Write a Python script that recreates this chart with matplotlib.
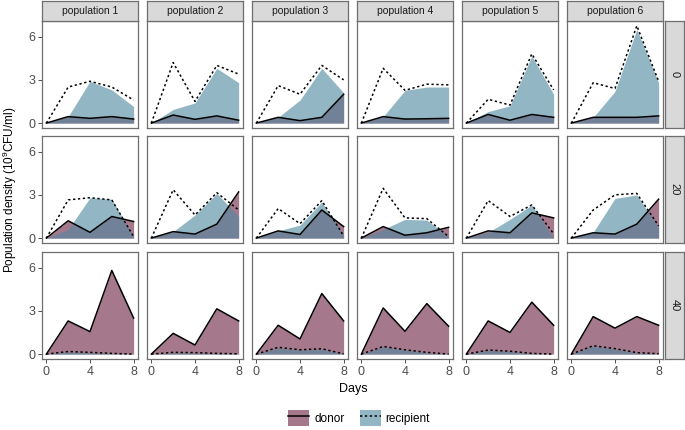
import matplotlib
matplotlib.use("Agg")
import matplotlib.pyplot as plt
from matplotlib.patches import Patch
from matplotlib.lines import Line2D

plt.rcParams['font.family'] = ['Liberation Sans', 'DejaVu Sans']
plt.rcParams['mathtext.fontset'] = 'custom'
plt.rcParams['mathtext.rm'] = 'Liberation Sans'
plt.rcParams['mathtext.default'] = 'rm'

days = [0, 2, 4, 6, 8]
populations = ["population 1", "population 2", "population 3",
               "population 4", "population 5", "population 6"]
treatments = ["0", "20", "40"]

# donor density, one row per treatment, one list per population
donor_0 = [[0, 0.45, 0.33, 0.45, 0.28], [0, 0.56, 0.26, 0.5, 0.2],
           [0, 0.4, 0.17, 0.4, 2.0], [0, 0.45, 0.28, 0.3, 0.33],
           [0, 0.6, 0.2, 0.6, 0.4], [0, 0.4, 0.4, 0.4, 0.5]]
donor_20 = [[0, 1.2, 0.4, 1.5, 1.15], [0, 0.45, 0.28, 0.97, 3.2],
            [0, 0.5, 0.25, 1.95, 0.8], [0, 0.8, 0.2, 0.37, 0.75],
            [0, 0.5, 0.37, 1.75, 1.4], [0, 0.37, 0.28, 0.97, 2.7]]
donor_40 = [[0, 2.3, 1.56, 5.8, 2.5], [0, 1.44, 0.63, 3.14, 2.3],
            [0, 2.0, 1.05, 4.2, 2.3], [0, 3.2, 1.58, 3.5, 1.93],
            [0, 2.3, 1.5, 3.6, 2.0], [0, 2.6, 1.8, 2.6, 2.0]]

# recipient density (dashed line)
recip_0 = [[0, 2.5, 2.9, 2.5, 1.6], [0, 4.2, 1.5, 4.0, 3.4],
           [0, 2.6, 2.0, 4.0, 3.0], [0, 3.8, 2.27, 2.7, 2.65],
           [0, 1.65, 1.25, 4.8, 2.3], [0, 2.8, 2.4, 6.75, 2.9]]
recip_20 = [[0, 2.65, 2.8, 2.65, 0.1], [0, 3.35, 1.6, 3.15, 1.95],
            [0, 2.05, 1.0, 2.6, 0.15], [0, 3.45, 1.4, 1.35, 0.1],
            [0, 2.6, 1.5, 2.3, 0.3], [0, 1.95, 3.0, 3.1, 0.85]]
recip_40 = [[0, 0.18, 0.12, 0.05, 0.0], [0, 0.12, 0.1, 0.05, 0.02],
            [0, 0.47, 0.3, 0.37, 0.02], [0, 0.53, 0.3, 0.12, 0.0],
            [0, 0.28, 0.2, 0.05, 0.0], [0, 0.58, 0.38, 0.1, 0.03]]

# recipient shaded area
recip_area_0 = [[0, 0.45, 2.9, 2.3, 1.15], [0, 0.95, 1.4, 3.8, 2.8],
                [0, 0.4, 1.6, 3.8, 2.1], [0, 0.45, 2.27, 2.5, 2.5],
                [0, 0.8, 1.2, 4.65, 2.0], [0, 0.4, 2.2, 6.5, 2.8]]
recip_area_20 = [[0, 0.6, 2.8, 2.7, 0.1], [0, 0.45, 1.6, 3.1, 1.5],
                 [0, 0.5, 0.9, 2.5, 0.2], [0, 0.6, 1.3, 1.25, 0.1],
                 [0, 0.4, 1.3, 2.3, 0.0], [0, 0.4, 2.75, 3.0, 0.75]]
recip_area_40 = [[0, 0.15, 0.1, 0.04, 0.0], [0, 0.1, 0.08, 0.04, 0.02],
                 [0, 0.42, 0.28, 0.33, 0.02], [0, 0.5, 0.28, 0.1, 0.0],
                 [0, 0.25, 0.18, 0.04, 0.0], [0, 0.55, 0.35, 0.08, 0.02]]

donor_rows = [donor_0, donor_20, donor_40]
recip_rows = [recip_0, recip_20, recip_40]
area_rows = [recip_area_0, recip_area_20, recip_area_40]

MAUVE = '#a5788c'
BLUE = '#5189a0'
BLUE_ALPHA = 0.62
BORDER = '#6e6e6e'
STRIP = '#d9d9d9'

W, H = 685, 430
fig = plt.figure(figsize=(6.85, 4.3), dpi=100)

col_left = [42, 147, 252, 357, 462, 567]
row_top = [21, 136, 252]
pw, ph = 96, 107


def frac(x, y, w, h):
    return [x / W, 1 - (y + h) / H, w / W, h / H]


def box(ax):
    for s in ax.spines.values():
        s.set_color(BORDER)
        s.set_linewidth(0.9)


for r in range(3):
    for c in range(6):
        ax = fig.add_axes(frac(col_left[c], row_top[r], pw, ph))
        ax.fill_between(days, donor_rows[r][c], 0, color=MAUVE, lw=0)
        ax.fill_between(days, area_rows[r][c], 0, color=BLUE, alpha=BLUE_ALPHA, lw=0)
        ax.plot(days, donor_rows[r][c], color='black', lw=1.1)
        ax.plot(days, recip_rows[r][c], color='black', lw=1.1, ls=(0, (1.5, 1.7)))
        ax.set_xlim(-0.4, 8.4)
        ax.set_ylim(-0.34, 7.08)
        ax.set_xticks([0, 4, 8])
        ax.set_yticks([0, 3, 6])
        box(ax)
        ax.tick_params(length=3, width=0.6, color='#333333', labelsize=9,
                       labelcolor='#4d4d4d', pad=2)
        if c != 0:
            ax.tick_params(axis='y', left=False, labelleft=False)
        if r != 2:
            ax.tick_params(axis='x', bottom=False, labelbottom=False)

        if r == 0:
            sx = fig.add_axes(frac(col_left[c], 1, pw, 20))
            sx.set_xticks([])
            sx.set_yticks([])
            sx.set_facecolor(STRIP)
            box(sx)
            sx.text(0.5, 0.5, populations[c], ha='center', va='center',
                    fontsize=7.5, color='#1a1a1a', transform=sx.transAxes)
    sy = fig.add_axes(frac(665, row_top[r], 19, ph))
    sy.set_xticks([])
    sy.set_yticks([])
    sy.set_facecolor(STRIP)
    box(sy)
    sy.text(0.5, 0.5, treatments[r], ha='center', va='center', rotation=-90,
            fontsize=8, color='#1a1a1a', transform=sy.transAxes)

fig.text(353 / W, 1 - 389 / H, 'Days', ha='center', va='center', fontsize=9)
fig.text(10 / W, 1 - 190 / H, r'Population density (10$^9$CFU/ml)',
         ha='center', va='center', rotation=90, fontsize=8.5)

handles = [
    (Patch(facecolor=MAUVE, edgecolor='none'), Line2D([], [], color='black', lw=1.1)),
    (Patch(facecolor='#93b6c4', edgecolor='none'),
     Line2D([], [], color='black', lw=1.1, ls=(0, (1.5, 1.7)))),
]
fig.legend(handles, ['donor', 'recipient'], loc='center', ncol=2,
           bbox_to_anchor=(359 / W, 1 - 418 / H), frameon=False, fontsize=8.5,
           handlelength=1.8, handleheight=1.8, handletextpad=0.4,
           columnspacing=1.3, borderpad=0)

fig.savefig('out.png', dpi=100)
